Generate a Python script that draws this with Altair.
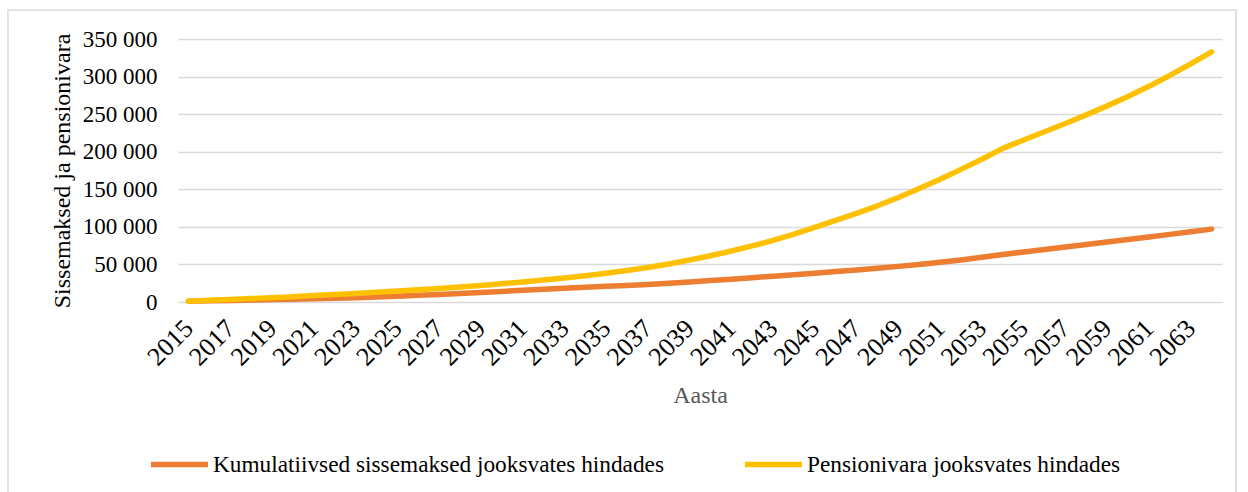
import altair as alt
import pandas as pd

years = list(range(2015, 2065))

kumulatiivsed = [
    1000, 1500, 2000, 2600, 3200, 3800, 4400, 5100, 5800, 6500,
    7700, 8900, 10100, 11400, 12700, 14100, 15600, 16900, 18200, 19500,
    20800, 22000, 23400, 25000, 26700, 28500, 30400, 32400, 34300, 36300,
    38400, 40500, 42700, 45000, 47400, 50000, 52900, 56000, 59500, 63200,
    66600, 70000, 73300, 76600, 79900, 83200, 86600, 90000, 93500, 97000,
]

pensionivara = [
    1100, 2200, 3300, 4500, 5800, 7100, 8500, 9900, 11400, 12900,
    14500, 16200, 18000, 19900, 22000, 24200, 26600, 29200, 32000, 35000,
    38300, 41900, 45900, 50600, 55800, 61500, 67800, 74600, 82000, 90200,
    99200, 108500, 118000, 128000, 139000, 151000, 163500, 176500, 190000, 204500,
    215500, 226500, 237500, 249000, 261000, 273500, 287000, 301500, 317000, 333000,
]

series_names = [
    "Kumulatiivsed sissemaksed jooksvates hindades",
    "Pensionivara jooksvates hindades",
]
series_colors = ["#ED7D31", "#FFC000"]
tick_years = list(range(2015, 2064, 2))
y_ticks = [0, 50000, 100000, 150000, 200000, 250000, 300000, 350000]

rows = []
for i, (name, vals) in enumerate(zip(series_names, [kumulatiivsed, pensionivara])):
    for y, v in zip(years, vals):
        rows.append({"Aasta": y, "Väärtus": v, "Seeria": name, "ord": i})
df = pd.DataFrame(rows)

FONT = "Liberation Serif"

lines = alt.Chart(df).mark_line(strokeWidth=5.5, strokeCap="round", strokeJoin="round").encode(
    x=alt.X(
        "Aasta:Q",
        scale=alt.Scale(domain=[2014.5, 2064.5], nice=False, zero=False),
        axis=alt.Axis(
            values=tick_years,
            format="d",
            labelAngle=-45,
            labelAlign="right",
            labelBaseline="middle",
            labelPadding=22,
            labelFontSize=26,
            labelColor="#000000",
            labelFont=FONT,
            labelOverlap=False,
            labelFlush=False,
            grid=False,
            ticks=False,
            domain=False,
            title="Aasta",
            titleFont=FONT,
            titleFontSize=24,
            titleFontWeight="normal",
            titleColor="#595959",
            titlePadding=14,
        ),
    ),
    y=alt.Y(
        "Väärtus:Q",
        scale=alt.Scale(domain=[0, 350000], nice=False),
        axis=alt.Axis(
            values=y_ticks,
            labelExpr="replace(format(datum.value, ','), ',', ' ')",
            labelPadding=21,
            labelFontSize=23,
            labelColor="#000000",
            labelFont=FONT,
            ticks=False,
            domain=False,
            grid=True,
            gridColor="#d9d9d9",
            gridWidth=1.5,
            title="Sissemaksed ja pensionivara",
            titleFont=FONT,
            titleFontSize=24,
            titleFontWeight="normal",
            titleColor="#000000",
            titlePadding=8,
        ),
    ),
    color=alt.Color(
        "Seeria:N",
        scale=alt.Scale(domain=series_names, range=series_colors),
        legend=alt.Legend(
            title=None,
            orient="none",
            legendX=-30,
            legendY=394,
            direction="horizontal",
            symbolType="stroke",
            symbolSize=3249,
            symbolStrokeWidth=5.5,
            labelFont=FONT,
            labelFontSize=23.3,
            labelColor="#000000",
            labelOffset=2,
            labelLimit=600,
            columnPadding=70,
        ),
    ),
    order=alt.Order("ord:Q"),
)

frame = alt.Chart(alt.Data(values=[{}])).mark_rect(
    fill=None, stroke="#d9d9d9", strokeWidth=1.5, clip=False
).encode(
    x=alt.value(-170), x2=alt.value(1058), y=alt.value(-29), y2=alt.value(470)
)

chart = alt.layer(frame, lines).properties(
    width=1044,
    height=263,
    padding={"left": 178, "top": 39, "right": 26, "bottom": 190},
    autosize=alt.AutoSizeParams(type="none"),
    background="#ffffff",
).configure_view(stroke=None)

chart.save("out.html", embed_options={"renderer": "svg", "actions": False})
